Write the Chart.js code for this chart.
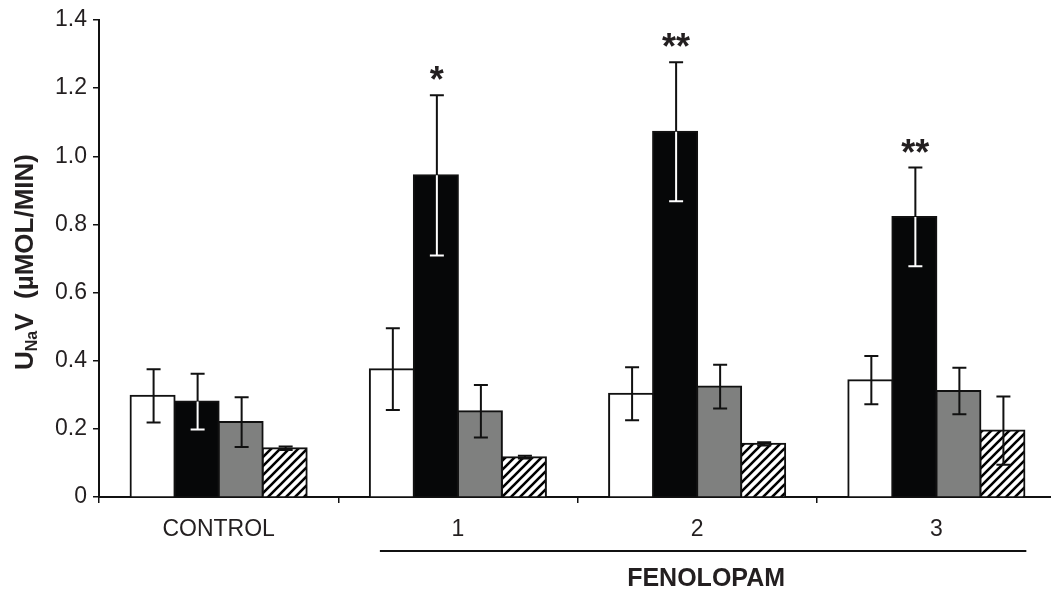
<!DOCTYPE html>
<html>
<head>
<meta charset="utf-8">
<script src="https://cdn.jsdelivr.net/npm/chart.js@4.4.1/dist/chart.umd.min.js"></script>
<style>
html,body{margin:0;padding:0;background:#fff;overflow:hidden;}
#wrap{width:1056px;height:591px;position:relative;}
</style>
</head>
<body>
<div id="wrap"><canvas id="c"></canvas></div>
<script>
// ---- data ----
const categories = ['CONTROL', '1', '2', '3'];
const whiteVals = [0.297, 0.375, 0.303, 0.343];
const whiteErr  = [0.078, 0.120, 0.078, 0.071];
const blackVals = [0.280, 0.944, 1.072, 0.822];
const blackErr  = [0.082, 0.235, 0.204, 0.145];
const grayVals  = [0.220, 0.252, 0.324, 0.311];
const grayErr   = [0.073, 0.077, 0.064, 0.068];
const hatchVals = [0.143, 0.117, 0.156, 0.195];
const hatchErr  = [0.005, 0.004, 0.005, 0.100];
const blackSig  = ['', '*', '**', '**'];
const yTicks    = [0, 0.2, 0.4, 0.6, 0.8, 1.0, 1.2, 1.4];
const groupLabel = 'FENOLOPAM';

function hatchPattern() {
  const s = 9;
  const c = document.createElement('canvas');
  c.width = s; c.height = s;
  const g = c.getContext('2d');
  g.fillStyle = '#fff'; g.fillRect(0, 0, s, s);
  g.strokeStyle = '#000'; g.lineWidth = 2.6;
  g.beginPath();
  g.moveTo(-1, s + 1); g.lineTo(s + 1, -1);
  g.moveTo(-1 - s, s + 1); g.lineTo(1, -1);
  g.moveTo(s - 1, s + 1); g.lineTo(2 * s + 1, -1);
  g.stroke();
  return g.createPattern(c, 'repeat');
}
const pattern = hatchPattern();

const errors = [whiteErr, blackErr, grayErr, hatchErr];
const FONT = "'Liberation Sans', Arial, sans-serif";

const errorBarPlugin = {
  id: 'errbars',
  afterDatasetsDraw(chart) {
    const ctx = chart.ctx;
    const y = chart.scales.y;
    chart.data.datasets.forEach((ds, di) => {
      const meta = chart.getDatasetMeta(di);
      meta.data.forEach((el, i) => {
        const v = ds.data[i], e = errors[di][i];
        const x = el.x + 1;
        const yt = y.getPixelForValue(v + e);
        const yb = y.getPixelForValue(v - e);
        const yv = el.y;
        const cap = 7;
        ctx.save();
        ctx.lineWidth = 2;
        ctx.lineCap = 'butt';
        ctx.strokeStyle = '#111';
        ctx.beginPath();
        ctx.moveTo(x, yt); ctx.lineTo(x, yv);
        ctx.moveTo(x - cap, yt); ctx.lineTo(x + cap, yt);
        ctx.stroke();
        ctx.strokeStyle = di === 1 ? '#fff' : '#111';
        ctx.beginPath();
        ctx.moveTo(x, yv); ctx.lineTo(x, yb);
        ctx.moveTo(x - cap, yb); ctx.lineTo(x + cap, yb);
        ctx.stroke();
        if (di === 1 && blackSig[i]) {
          ctx.fillStyle = '#231f20';
          ctx.font = 'bold 36px ' + FONT;
          ctx.textAlign = 'center';
          ctx.textBaseline = 'alphabetic';
          ctx.fillText(blackSig[i], x, yt - 3);
        }
        ctx.restore();
      });
    });
  }
};

const annotPlugin = {
  id: 'annot',
  afterDraw(chart) {
    const ctx = chart.ctx;
    const xs = chart.scales.x;
    const ca = chart.chartArea;
    const catW = (ca.right - ca.left) / categories.length;
    const x1 = xs.getPixelForValue(1) - 0.326 * catW;
    const x2 = xs.getPixelForValue(3) + 0.376 * catW;
    ctx.save();
    ctx.strokeStyle = '#111';
    ctx.lineWidth = 2;
    ctx.beginPath();
    ctx.moveTo(x1, ca.bottom + 54); ctx.lineTo(x2, ca.bottom + 54);
    ctx.stroke();
    ctx.fillStyle = '#231f20';
    ctx.font = 'bold 25px ' + FONT;
    ctx.textAlign = 'center';
    ctx.textBaseline = 'middle';
    ctx.fillText(groupLabel, (x1 + x2) / 2 + 3, ca.bottom + 82);

    const parts = [
      {t: 'U', f: 'bold 26px ' + FONT, dy: 0},
      {t: 'Na', f: 'bold 16px ' + FONT, dy: 7},
      {t: 'V  (\u00b5MOL/MIN)', f: 'bold 26px ' + FONT, dy: 0}
    ];
    let total = 0;
    parts.forEach(p => { ctx.font = p.f; p.w = ctx.measureText(p.t).width; total += p.w; });
    ctx.translate(26, 262);
    ctx.rotate(-Math.PI / 2);
    ctx.textAlign = 'left';
    ctx.textBaseline = 'middle';
    let cx = -total / 2;
    parts.forEach(p => { ctx.font = p.f; ctx.fillText(p.t, cx, p.dy); cx += p.w; });
    ctx.restore();
  }
};

new Chart(document.getElementById('c'), {
  type: 'bar',
  data: {
    labels: categories,
    datasets: [
      {label: 'a', data: whiteVals, backgroundColor: '#ffffff', borderColor: '#111', borderWidth: 2},
      {label: 'b', data: blackVals, backgroundColor: '#060708', borderColor: '#111', borderWidth: 2},
      {label: 'c', data: grayVals, backgroundColor: '#7f807f', borderColor: '#111', borderWidth: 2},
      {label: 'd', data: hatchVals, backgroundColor: pattern, borderColor: '#111', borderWidth: 2}
    ]
  },
  options: {
    responsive: true,
    maintainAspectRatio: false,
    animation: false,
    datasets: {bar: {categoryPercentage: 0.736, barPercentage: 1.0, borderSkipped: 'bottom', inflateAmount: 1}},
    layout: {padding: {top: 20, left: 0, right: 0, bottom: 0}},
    plugins: {legend: {display: false}, tooltip: {enabled: false}},
    scales: {
      x: {
        grid: {display: true, drawOnChartArea: false, drawTicks: true, tickLength: 6, color: '#111', lineWidth: 1.5, offset: true},
        border: {display: true, color: '#111', width: 2},
        ticks: {color: '#231f20', font: {family: FONT, size: 23}, padding: 13, maxRotation: 0},
        afterFit(s) { s.height = 94; }
      },
      y: {
        min: 0, max: 1.4,
        afterBuildTicks(s) { s.ticks = yTicks.map(v => ({value: v})); },
        grid: {display: true, drawOnChartArea: false, drawTicks: true, tickLength: 6, color: '#111', lineWidth: 1.5},
        border: {display: true, color: '#111', width: 2},
        ticks: {
          color: '#231f20', font: {family: FONT, size: 23}, padding: 6,
          callback: v => v === 0 ? '0' : Number(v).toFixed(1)
        },
        afterFit(s) { s.width = 99; }
      }
    }
  },
  plugins: [errorBarPlugin, annotPlugin]
});
</script>
</body>
</html>
